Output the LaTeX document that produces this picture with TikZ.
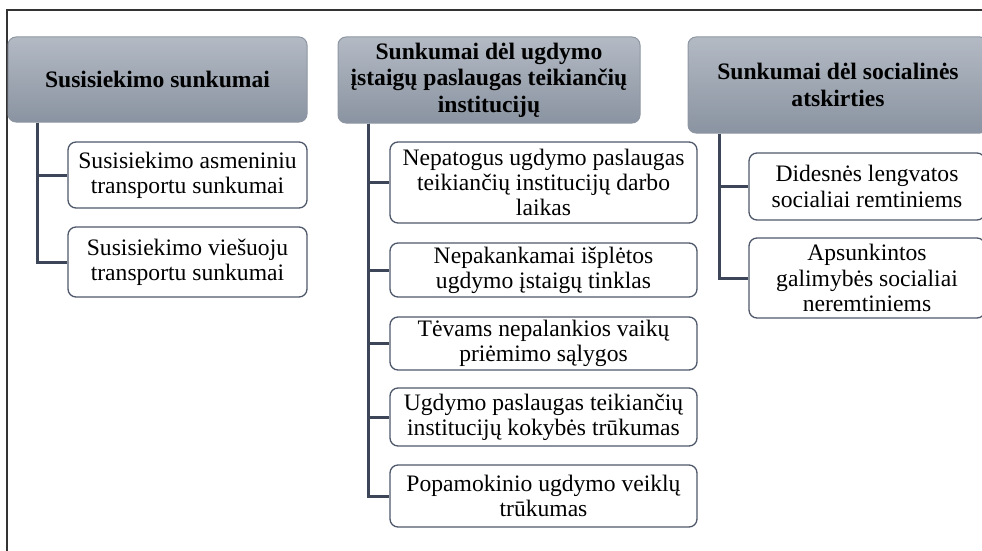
\documentclass[tikz,border=0pt]{standalone}
\usepackage{fontspec}
\setmainfont{Liberation Serif}
\usepackage{tikz}

\definecolor{headtop}{HTML}{B3BAC4}
\definecolor{headbot}{HTML}{8A93A1}
\definecolor{headline}{HTML}{8E96A2}
\definecolor{boxline}{HTML}{4E586A}
\definecolor{linkcol}{HTML}{3C4658}

\begin{document}
\begin{tikzpicture}
[x=1pt,y=-1pt,
 head/.style={draw=headline, line width=1pt, rounded corners=8pt,
   top color=headtop, bottom color=headbot, inner sep=0pt, align=center,
   font=\bfseries\fontsize{23.6}{26.5}\selectfont},
 item/.style={draw=boxline, line width=1.3pt, rounded corners=8pt,
   fill=white, inner sep=0pt, align=center,
   font=\fontsize{23.6}{25.3}\selectfont},
 link/.style={draw=linkcol, line width=3pt}]

	\clip (0,0) rectangle (982,551);
	%\draw[gray,step=20] (0,0) grid (982,551);

	\draw[line width=2pt, black!80] (7,10) rectangle (1000,600);

	% headers
	\node[head, minimum width=299pt, minimum height=85pt] (trip) at (157.5,79.5)
	{Susisiekimo sunkumai};
	\node[head, minimum width=302pt, minimum height=86pt] (inst) at (489,80)
	{Sunkumai dėl ugdymo\\ įstaigų paslaugas teikiančių\\ institucijų};
	\node[head, minimum width=300pt, minimum height=96pt] (soc) at (838,85)
	{Sunkumai dėl socialinės\\ atskirties};

	% first column
	\node[item, minimum width=239pt, minimum height=66pt] (own) at (187.5,175)
	{Susisiekimo asmeniniu\\ transportu sunkumai};
	\node[item, minimum width=239pt, minimum height=70pt] (pub) at (187.5,262)
	{Susisiekimo viešuoju\\ transportu sunkumai};

	% second column
	\node[item, minimum width=307pt, minimum height=81pt] (hours) at (543.5,182.5)
	{Nepatogus ugdymo paslaugas\\ teikiančių institucijų darbo\\ laikas};
	\node[item, minimum width=307pt, minimum height=54pt] (net) at (543.5,270)
	{Nepakankamai išplėtos\\ ugdymo įstaigų tinklas};
	\node[item, minimum width=307pt, minimum height=53pt] (admit) at (543.5,343.5)
	{Tėvams nepalankios vaikų\\ priėmimo sąlygos};
	\node[item, minimum width=307pt, minimum height=58pt] (qual) at (543.5,417)
	{Ugdymo paslaugas teikiančių\\ institucijų kokybės trūkumas};
	\node[item, minimum width=307pt, minimum height=62pt] (extra) at (543.5,496)
	{Popamokinio ugdymo veiklų\\ trūkumas};

	% third column
	\node[item, minimum width=236pt, minimum height=67pt] (perk) at (867,186.5)
	{Didesnės lengvatos\\ socialiai remtiniems};
	\node[item, minimum width=236pt, minimum height=80pt] (hard) at (867,278)
	{Apsunkintos\\ galimybės socialiai\\ neremtiniems};

	\draw[link] ([xshift=30pt]trip.south west) |- (own.west);
	\draw[link] ([xshift=30pt]trip.south west) |- (pub.west);

	\draw[link] ([xshift=31pt]inst.south west) |- (hours.west);
	\draw[link] ([xshift=31pt]inst.south west) |- (net.west);
	\draw[link] ([xshift=31pt]inst.south west) |- (admit.west);
	\draw[link] ([xshift=31pt]inst.south west) |- (qual.west);
	\draw[link] ([xshift=31pt]inst.south west) |- (extra.west);

	\draw[link] ([xshift=32pt]soc.south west) |- (perk.west);
	\draw[link] ([xshift=32pt]soc.south west) |- (hard.west);
\end{tikzpicture}
\end{document}
